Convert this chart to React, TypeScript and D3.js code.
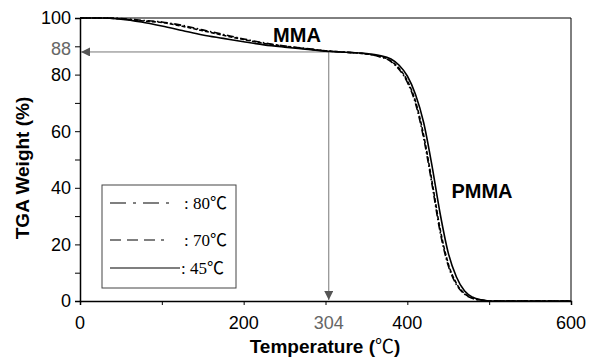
import * as d3 from "d3";
import { useRef, useEffect } from "react";

// temperature grid (℃)
const temps = [0, 25, 50, 75, 100, 125, 150, 175, 200, 225, 250, 275, 304, 325, 350, 365, 380, 390, 400, 410, 420, 430, 440, 450, 460, 470, 480, 490, 500, 520, 600];
// TGA weight (%) per polymerization temperature
const w80 = [100, 100, 99.8, 99.2, 98.6, 97.4, 95.8, 94.2, 92.6, 91.2, 90.1, 89.3, 88.3, 87.9, 87.3, 86.4, 84.6, 81.8, 77.3, 69.8, 57.5, 41.5, 24.5, 12.5, 5.8, 2.4, 0.9, 0.3, 0, 0, 0];
const w70 = [100, 100, 99.7, 99.0, 98.4, 97.1, 95.5, 93.9, 92.4, 91.0, 90.0, 89.2, 88.3, 87.9, 87.3, 86.5, 84.8, 82.2, 77.8, 70.5, 58.5, 42.5, 25.5, 13.2, 6.2, 2.6, 1.0, 0.3, 0, 0, 0];
const w45 = [100, 100, 99.6, 98.6, 97.2, 95.6, 94.0, 92.8, 91.6, 90.5, 89.7, 89.0, 88.2, 87.9, 87.4, 86.8, 85.5, 83.3, 79.5, 73, 63, 48, 31, 17, 8.5, 3.5, 1.3, 0.4, 0, 0, 0];

const xTicks = [0, 100, 200, 300, 400, 500, 600];
const xLabels = [0, 200, 400, 600];
const yTicks = [0, 10, 20, 30, 40, 50, 60, 70, 80, 90, 100];
const yLabels = [0, 20, 40, 60, 80, 100];
const markT = 304;
const markW = 88;

const series = [
  { name: "80℃", values: w80, dash: "7,2.5,1.5,2.5", legendDash: "16,7,3,7" },
  { name: "70℃", values: w70, dash: "4,2", legendDash: "11,6" },
  { name: "45℃", values: w45, dash: null, legendDash: null },
];

export default function App() {
  const width = 589;
  const height = 358;
  const marginLeft = 80;
  const marginRight = 18;
  const marginTop = 18;
  const marginBottom = 57;
  const gx = useRef<SVGGElement>(null);
  const gy = useRef<SVGGElement>(null);

  const x = d3.scaleLinear([0, 600], [marginLeft, width - marginRight]);
  const y = d3.scaleLinear([0, 100], [height - marginBottom, marginTop]);
  const line = d3.line<number>((d, i) => x(temps[i]), (d) => y(d)).curve(d3.curveMonotoneX);

  useEffect(() => {
    const g = d3.select(gx.current!);
    g.call(d3.axisBottom(x).tickValues(xTicks).tickSize(4).tickFormat(() => ""));
    g.select(".domain").attr("stroke-width", 1.5);
  }, [x]);

  useEffect(() => {
    const g = d3.select(gy.current!);
    g.call(d3.axisLeft(y).tickValues(yTicks).tickSize(5).tickFormat(() => ""));
    g.select(".domain").attr("stroke-width", 1.5);
  }, [y]);

  const sans = "Arial, 'Liberation Sans', sans-serif";
  const serif = "'Times New Roman', 'Liberation Serif', 'Noto Sans CJK SC', serif";
  const gray = "#777";
  const legendRows = [203, 240, 268];

  return (
    <svg width={width} height={height} style={{ position: "absolute", left: 0, top: 0, background: "#fff" }}>
      <defs>
        <marker id="arr" viewBox="0 0 10 10" refX="10" refY="5" markerWidth="9" markerHeight="9" orient="auto" markerUnits="userSpaceOnUse">
          <path d="M0,0 L10,5 L0,10 Z" fill="#555" />
        </marker>
      </defs>
      {/* frame */}
      <path d={`M${x(0)},${y(100)}H${x(600)}V${y(0)}`} fill="none" stroke="#000" strokeWidth={1} />
      <g ref={gx} transform={`translate(0,${height - marginBottom})`} />
      <g ref={gy} transform={`translate(${marginLeft},0)`} />
      {/* tick labels */}
      <g fontFamily={sans} fontSize={18} fill="#000">
        {xLabels.map((t) => (
          <text key={t} x={x(t)} y={329} textAnchor="middle">{t}</text>
        ))}
        <text x={x(markT)} y={329} textAnchor="middle" fill="#666">{markT}</text>
        {yLabels.map((t) => (
          <text key={t} x={71} y={y(t)} dy="0.35em" textAnchor="end">{t}</text>
        ))}
        <text x={71} y={y(markW) - 3} dy="0.35em" textAnchor="end" fill="#666">{markW}</text>
      </g>
      {/* marker arrows */}
      <line x1={x(markT)} y1={y(markW)} x2={x(0) + 1} y2={y(markW)} stroke={gray} strokeWidth={1} markerEnd="url(#arr)" />
      <line x1={x(markT)} y1={y(markW)} x2={x(markT)} y2={y(0) - 1} stroke={gray} strokeWidth={1} markerEnd="url(#arr)" />
      {/* curves */}
      {series.map((s) => (
        <path key={s.name} d={line(s.values)!} fill="none" stroke="#000" strokeWidth={1.6} strokeDasharray={s.dash ?? undefined} />
      ))}
      {/* annotations */}
      <text x={297} y={42} textAnchor="middle" fontFamily={sans} fontWeight="bold" fontSize={20}>MMA</text>
      <text x={482} y={198} textAnchor="middle" fontFamily={sans} fontWeight="bold" fontSize={20}>PMMA</text>
      {/* legend */}
      <rect x={102} y={185} width={134} height={103} fill="#fff" stroke="#444" strokeWidth={1} />
      {series.map((s, i) => (
        <g key={s.name}>
          <line x1={110} x2={i === 2 ? 180 : i === 0 ? 174 : 164} y1={legendRows[i]} y2={legendRows[i]} stroke="#000" strokeWidth={1.2} strokeDasharray={s.legendDash ?? undefined} />
          <text x={i === 2 ? 181 : 184} y={legendRows[i]} dy="0.35em" fontFamily={serif} fontSize={17}>: {s.name}</text>
        </g>
      ))}
      {/* axis titles */}
      <text x={325} y={353} textAnchor="middle" fontFamily={sans} fontWeight="bold" fontSize={19}>
        Temperature (<tspan fontFamily={serif} fontWeight="normal">℃</tspan>)
      </text>
      <text transform={`translate(29,168) rotate(-90)`} textAnchor="middle" fontFamily={sans} fontWeight="bold" fontSize={19}>TGA Weight (%)</text>
    </svg>
  );
}
